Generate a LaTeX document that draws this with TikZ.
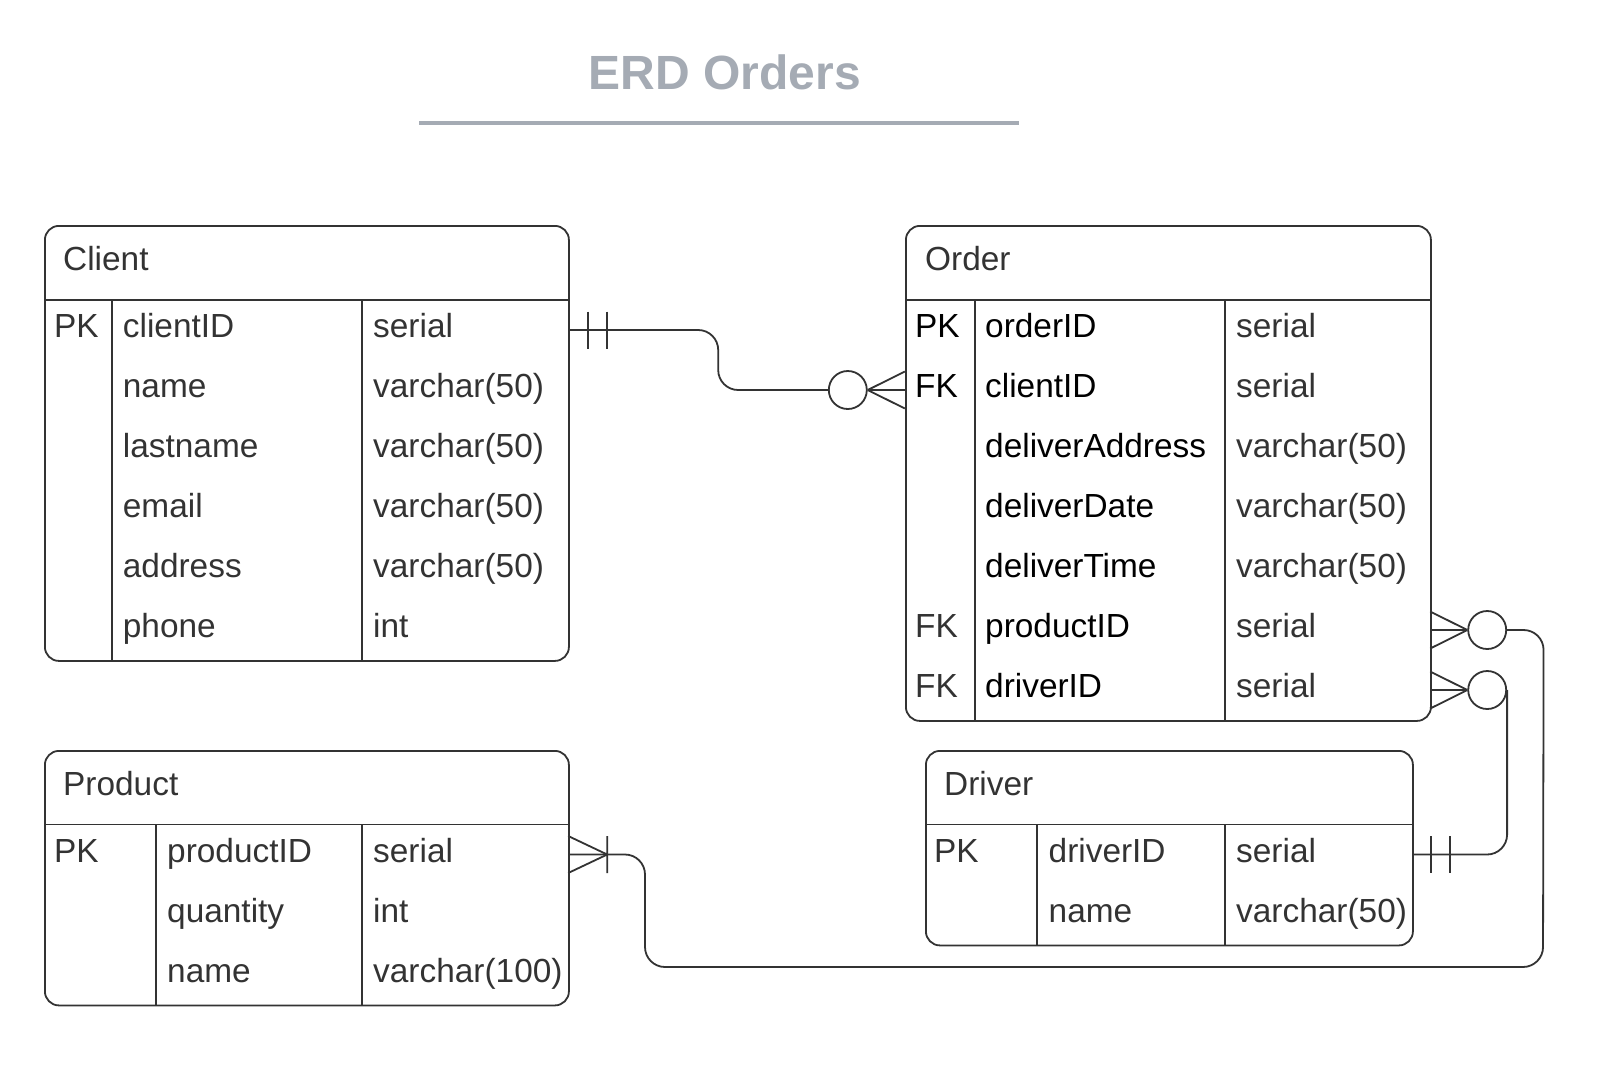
\documentclass[tikz,border=0pt]{standalone}
\usepackage{fontspec}
\setmainfont{Liberation Sans}
\usetikzlibrary{calc}
\definecolor{ln}{HTML}{333333}
\definecolor{tx}{HTML}{333333}
\definecolor{ttl}{HTML}{A5ABB4}
\begin{document}
\begin{tikzpicture}[x=1pt,y=-1pt,
 frame/.style={draw=ln, line width=1.8pt, rounded corners=14pt, inner sep=0, anchor=north west},
 sep/.style={draw=ln, line width=1.8pt},
 row/.style={inner sep=0, minimum height=60pt},
 txt/.style={anchor=base west, inner sep=0, text=tx, font=\fontsize{33.4}{40}\selectfont},
 conn/.style={draw=ln, line width=1.8pt},
 ring/.style={circle, draw=ln, line width=1.8pt, minimum size=38pt, inner sep=0, fill=white},
]
\useasboundingbox (0,0) rectangle (1603,1080);

% title
\node[anchor=base, inner sep=0, text=ttl, font=\bfseries\fontsize{48}{58}\selectfont] (title) at (724.8,89.3) {ERD Orders};
\node[fill=ttl, minimum width=600pt, minimum height=4pt, inner sep=0] (rule) at (719,122.7) {};

% Client
\node[frame, minimum width=524pt, minimum height=435pt] (client) at (44,225) {};
\draw[sep] (44,300) -- (568,300) (111.7,300) -- (111.7,660) (362,300) -- (362,660);
\node[txt] (client-h) at (63,270.5) {Client};
\foreach \k/\f/\t [count=\i] in {PK/clientID/serial, /name/varchar(50), /lastname/varchar(50), /email/varchar(50), /address/varchar(50), /phone/int}{
  \node[row, minimum width=524pt] (cl\i) at (306,270+60*\i) {};
  \node[txt] (cl\i-k) at (54,277.5+60*\i) {\k};
  \node[txt] (cl\i-f) at (122.7,277.5+60*\i) {\f};
  \node[txt] (cl\i-t) at (373,277.5+60*\i) {\t};
}

% Order
\node[frame, minimum width=525pt, minimum height=495pt] (order) at (905,225) {};
\draw[sep] (905,300) -- (1430,300) (975,300) -- (975,720) (1225,300) -- (1225,720);
\node[txt] (order-h) at (925,270.5) {Order};
\foreach \k/\f/\t/\c [count=\i] in {PK/orderID/serial/black, FK/clientID/serial/black, /deliverAddress/varchar(50)/black, /deliverDate/varchar(50)/black, /deliverTime/varchar(50)/black, FK/productID/serial/tx, FK/driverID/serial/tx}{
  \node[row, minimum width=525pt] (or\i) at (1167.5,270+60*\i) {};
  \node[txt, text=\c] (or\i-k) at (915,277.5+60*\i) {\k};
  \node[txt, text=black] (or\i-f) at (985,277.5+60*\i) {\f};
  \node[txt] (or\i-t) at (1236,277.5+60*\i) {\t};
}

% Product
\node[frame, minimum width=524pt, minimum height=254.5pt] (product) at (44,750) {};
\draw[sep] (44,824.5) -- (568,824.5) (156,824.5) -- (156,1004.5) (362,824.5) -- (362,1004.5);
\node[txt] (product-h) at (63,795.5) {Product};
\foreach \k/\f/\t [count=\i] in {PK/productID/serial, /quantity/int, /name/varchar(100)}{
  \node[row, minimum width=524pt] (pr\i) at (306,794.5+60*\i) {};
  \node[txt] (pr\i-k) at (54,802+60*\i) {\k};
  \node[txt] (pr\i-f) at (167,802+60*\i) {\f};
  \node[txt] (pr\i-t) at (373,802+60*\i) {\t};
}

% Driver
\node[frame, minimum width=487pt, minimum height=194.5pt] (driver) at (925,750) {};
\draw[sep] (925,824.5) -- (1412,824.5) (1037,824.5) -- (1037,944.5) (1225,824.5) -- (1225,944.5);
\node[txt] (driver-h) at (944,795.5) {Driver};
\foreach \k/\f/\t [count=\i] in {PK/driverID/serial, /name/varchar(50)}{
  \node[row, minimum width=487pt] (dr\i) at (1168.5,794.5+60*\i) {};
  \node[txt] (dr\i-k) at (934,802+60*\i) {\k};
  \node[txt] (dr\i-f) at (1048.5,802+60*\i) {\f};
  \node[txt] (dr\i-t) at (1236,802+60*\i) {\t};
}

% Client -> Order (one and only one  to  zero or many)
\node[ring] (o1) at ([xshift=-57pt]or2.west) {};
\draw[conn, rounded corners=20pt] (cl1.east) -- ([xshift=150pt]cl1.east) |- (o1.west);
\draw[conn] (o1.east) -- ([yshift=18.5pt]or2.west) (o1.east) -- (or2.west) (o1.east) -- ([yshift=-18.5pt]or2.west);
\draw[conn] ([xshift=20pt,yshift=18.5pt]cl1.east) -- ([xshift=20pt,yshift=-18.5pt]cl1.east)
            ([xshift=39pt,yshift=18.5pt]cl1.east) -- ([xshift=39pt,yshift=-18.5pt]cl1.east);

% Order.productID -> Product
\node[ring] (o6) at ([xshift=57pt]or6.east) {};
\draw[conn] (o6.west) -- ([yshift=18.5pt]or6.east) (o6.west) -- (or6.east) (o6.west) -- ([yshift=-18.5pt]or6.east);
\draw[conn, rounded corners=20pt] (o6.east) -- ++(36.5,0) -- (1543,967) -- (645,967) |- (pr1.east);
\draw[conn] ([xshift=39pt]pr1.east) -- ([yshift=18.5pt]pr1.east)
            ([xshift=39pt]pr1.east) -- ([yshift=-18.5pt]pr1.east)
            ([xshift=39pt,yshift=18.5pt]pr1.east) -- ([xshift=39pt,yshift=-18.5pt]pr1.east);

% Order.driverID -> Driver
\node[ring] (o7) at ([xshift=57pt]or7.east) {};
\draw[conn] (o7.west) -- ([yshift=18.5pt]or7.east) (o7.west) -- (or7.east) (o7.west) -- ([yshift=-18.5pt]or7.east);
\draw[conn, rounded corners=20pt] (o7.east) |- (dr1.east);
\draw[conn] ([xshift=19pt,yshift=18.5pt]dr1.east) -- ([xshift=19pt,yshift=-18.5pt]dr1.east)
            ([xshift=38pt,yshift=18.5pt]dr1.east) -- ([xshift=38pt,yshift=-18.5pt]dr1.east);
\end{tikzpicture}
\end{document}
